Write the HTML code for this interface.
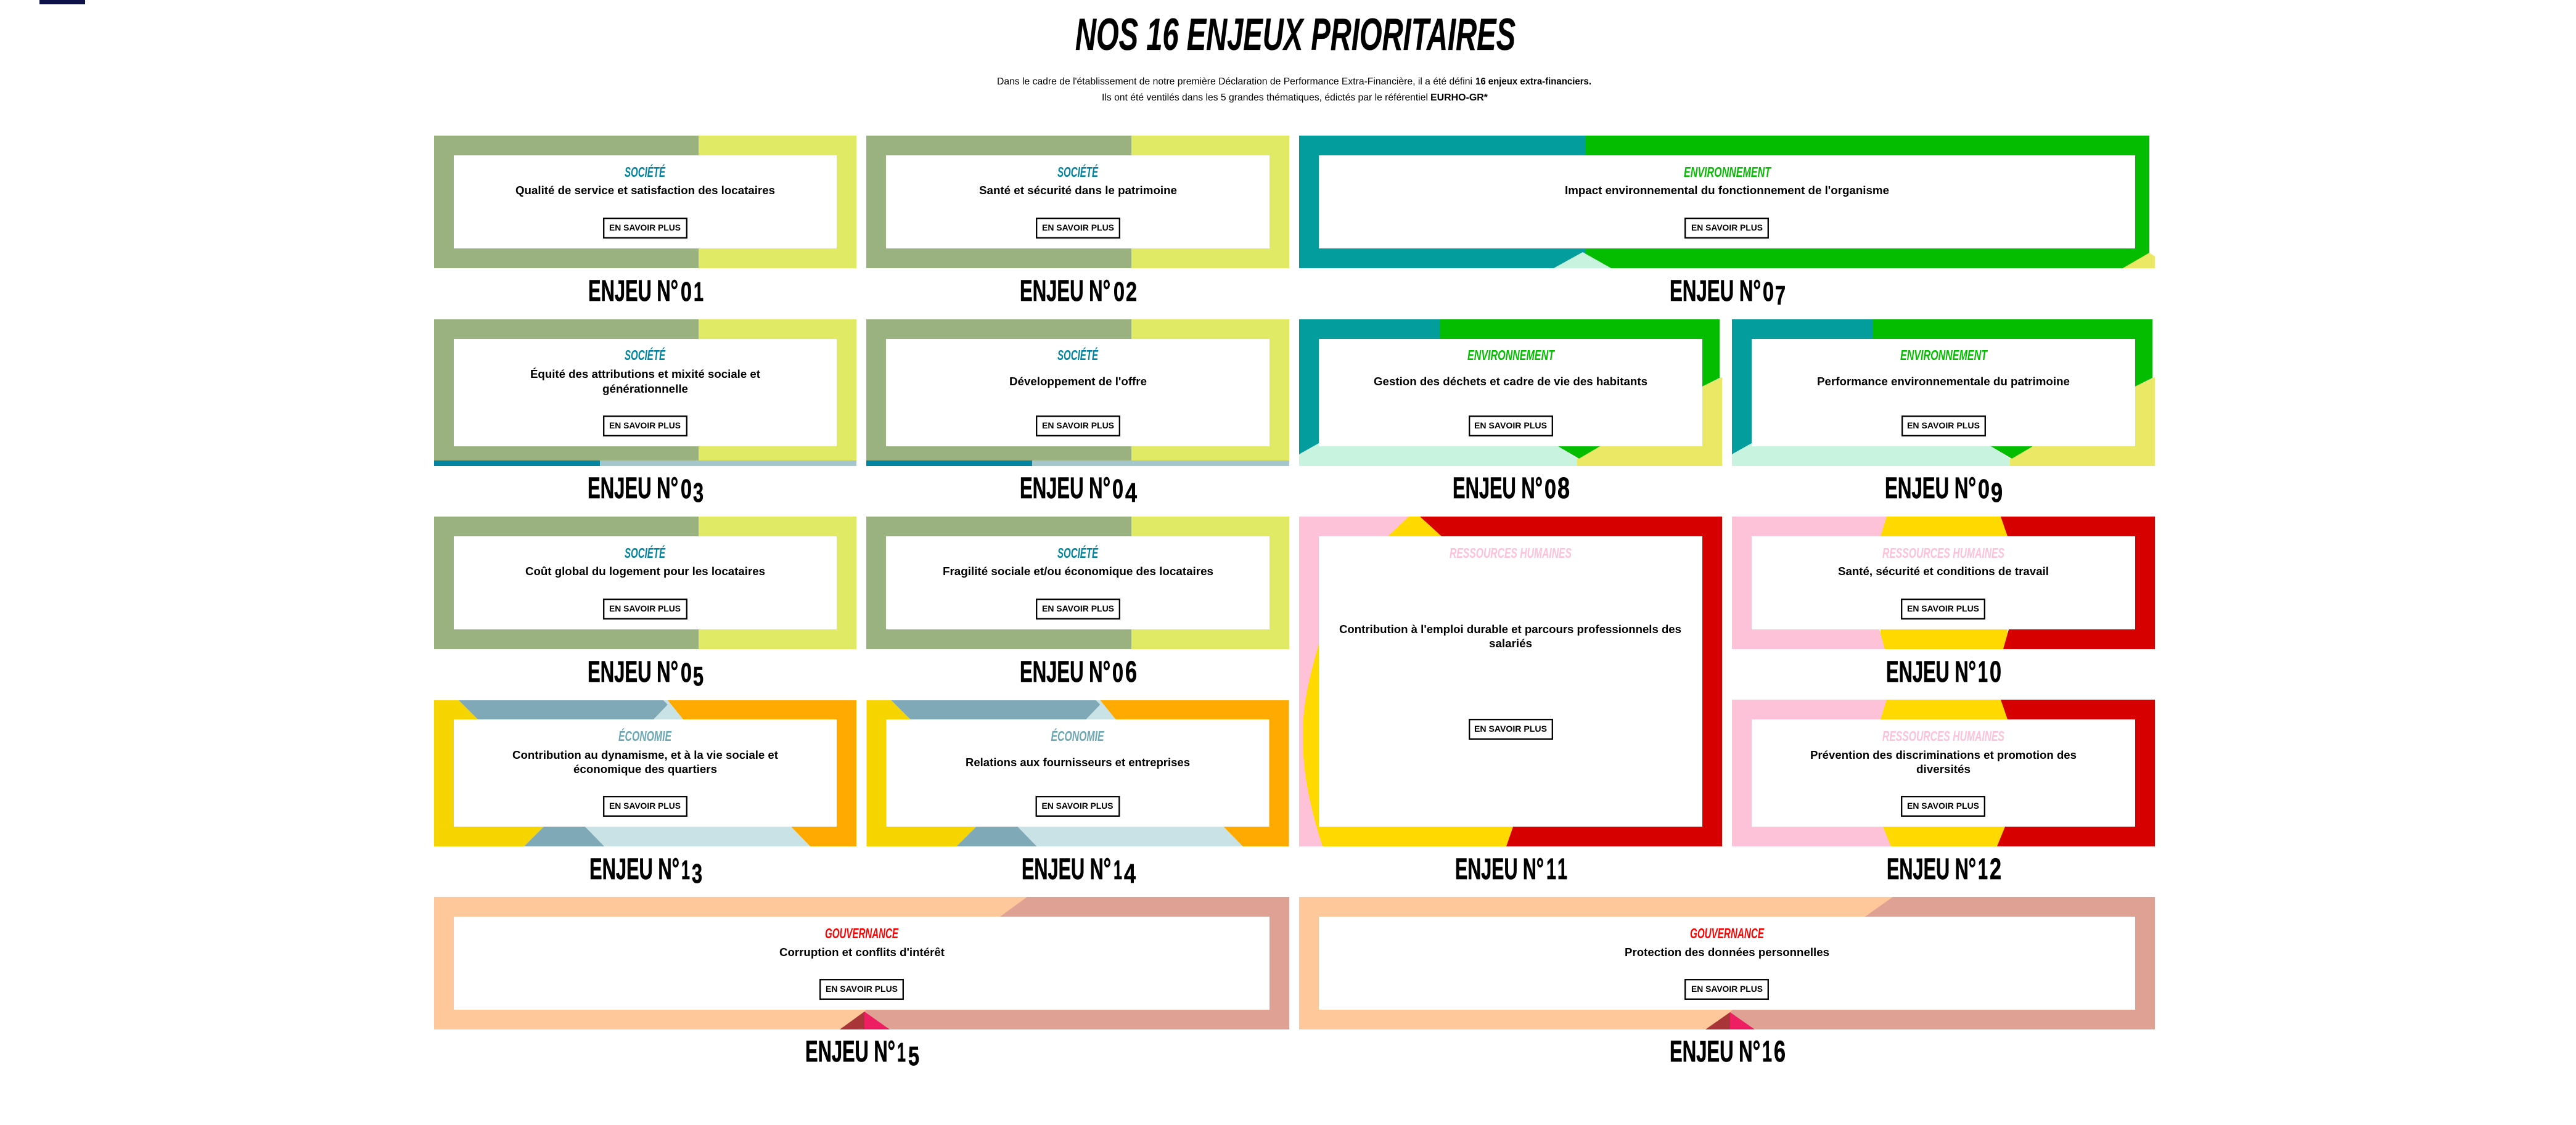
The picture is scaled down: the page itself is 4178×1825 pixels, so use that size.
<!DOCTYPE html>
<html lang="fr"><head><meta charset="utf-8"><title>Nos 16 enjeux prioritaires</title>
<style>
html,body{margin:0;padding:0;background:#fff}
svg{display:block}
text{font-family:"Liberation Sans",sans-serif}
.h{font-weight:700;font-style:italic;font-size:73px;stroke:#000;stroke-width:.3}
.s{font-size:16px}.sb{font-size:16px;font-weight:700}
.l{font-weight:700;font-style:italic;font-size:23px}
.t{font-weight:700;font-size:18px}
.b{font-weight:700;font-size:14px}
.e{font-weight:700;font-size:48px;stroke:#000;stroke-width:.7}
.d{font-weight:700;font-size:44px;stroke:#000;stroke-width:.7}
.D{font-weight:700;font-size:48px;stroke:#000;stroke-width:.7}
.btn{fill:#fff;stroke:#000;stroke-width:2.3}
.soc{fill:#00849f}.env{fill:#04bd00}.rh{fill:#fdc1d8}.eco{fill:#6ba7b5}.gov{fill:#f00}
</style></head><body>
<svg xmlns="http://www.w3.org/2000/svg" width="4178" height="1825" viewBox="0 0 4178 1825">
<rect width="4178" height="1825" fill="#fff"/>
<rect x="64" y="0" width="74" height="7" fill="#0e1147"/>
<text class="h" x="1744" y="81" textLength="714" lengthAdjust="spacingAndGlyphs">NOS 16 ENJEUX PRIORITAIRES</text>
<text class="s" x="1617" y="137" textLength="771" lengthAdjust="spacingAndGlyphs">Dans le cadre de l'établissement de notre première Déclaration de Performance Extra-Financière, il a été défini</text>
<text class="sb" x="2393" y="137" textLength="188" lengthAdjust="spacingAndGlyphs">16 enjeux extra-financiers.</text>
<text class="s" x="1787" y="163" textLength="529" lengthAdjust="spacingAndGlyphs">Ils ont été ventilés dans les 5 grandes thématiques, édictés par le référentiel</text>
<text class="sb" x="2320" y="163" textLength="93" lengthAdjust="spacingAndGlyphs">EURHO-GR*</text>

<!-- 01 -->
<rect x="704" y="220" width="429" height="215" fill="#99b280"/><rect x="1133" y="220" width="256" height="215" fill="#e1ea65"/>
<rect x="736" y="252" width="621" height="151" fill="#fff"/>
<text class="l soc" x="1013" y="287" textLength="66" lengthAdjust="spacingAndGlyphs">SOCIÉTÉ</text>
<text class="t" x="836" y="315" textLength="421" lengthAdjust="spacingAndGlyphs">Qualité de service et satisfaction des locataires</text>
<rect class="btn" x="979.2" y="354.2" width="134.6" height="31.6"/>
<text class="b" x="988" y="374" textLength="116" lengthAdjust="spacingAndGlyphs">EN SAVOIR PLUS</text>
<text class="e" x="954" y="488" textLength="146" lengthAdjust="spacingAndGlyphs">ENJEU N°</text>
<text class="d" x="1104" y="488" textLength="18" lengthAdjust="spacingAndGlyphs">0</text><text class="d" x="1125" y="488" textLength="16" lengthAdjust="spacingAndGlyphs">1</text>

<!-- 02 -->
<rect x="1405" y="220" width="430" height="215" fill="#99b280"/><rect x="1835" y="220" width="256" height="215" fill="#e1ea65"/>
<rect x="1437" y="252" width="622" height="151" fill="#fff"/>
<text class="l soc" x="1715" y="287" textLength="66" lengthAdjust="spacingAndGlyphs">SOCIÉTÉ</text>
<text class="t" x="1588" y="315" textLength="321" lengthAdjust="spacingAndGlyphs">Santé et sécurité dans le patrimoine</text>
<rect class="btn" x="1681.2" y="354.2" width="134.6" height="31.6"/>
<text class="b" x="1690" y="374" textLength="117" lengthAdjust="spacingAndGlyphs">EN SAVOIR PLUS</text>
<text class="e" x="1654" y="488" textLength="147" lengthAdjust="spacingAndGlyphs">ENJEU N°</text>
<text class="d" x="1806" y="488" textLength="18" lengthAdjust="spacingAndGlyphs">0</text><text class="d" x="1826" y="488" textLength="18" lengthAdjust="spacingAndGlyphs">2</text>

<!-- 07 -->
<rect x="2107" y="220" width="464" height="215" fill="#029d9c"/><rect x="2571" y="220" width="915" height="215" fill="#04bd00"/>
<polygon points="2567,409 2520,435 2613,435" fill="#c8f3de"/>
<polygon points="3486,410 3495,416 3495,435 3443,435" fill="#ebe866"/>
<rect x="2139" y="252" width="1324" height="151" fill="#fff"/>
<text class="l env" x="2731" y="287" textLength="141" lengthAdjust="spacingAndGlyphs">ENVIRONNEMENT</text>
<text class="t" x="2538" y="315" textLength="526" lengthAdjust="spacingAndGlyphs">Impact environnemental du fonctionnement de l'organisme</text>
<rect class="btn" x="2733.2" y="354.2" width="134.6" height="31.6"/>
<text class="b" x="2743" y="374" textLength="116" lengthAdjust="spacingAndGlyphs">EN SAVOIR PLUS</text>
<text class="e" x="2708" y="488" textLength="148" lengthAdjust="spacingAndGlyphs">ENJEU N°</text>
<text class="d" x="2859" y="488" textLength="18" lengthAdjust="spacingAndGlyphs">0</text><text class="d" x="2879" y="494" textLength="17" lengthAdjust="spacingAndGlyphs">7</text>

<!-- 03 -->
<rect x="704" y="518" width="429" height="229" fill="#99b280"/><rect x="1133" y="518" width="256" height="229" fill="#e1ea65"/>
<rect x="704" y="747" width="269" height="9" fill="#00849f"/><rect x="973" y="747" width="416" height="9" fill="#a5c7cb"/>
<rect x="736" y="550" width="621" height="174" fill="#fff"/>
<text class="l soc" x="1013" y="584" textLength="66" lengthAdjust="spacingAndGlyphs">SOCIÉTÉ</text>
<text class="t" x="860" y="613" textLength="373" lengthAdjust="spacingAndGlyphs">Équité des attributions et mixité sociale et</text>
<text class="t" x="977" y="637" textLength="139" lengthAdjust="spacingAndGlyphs">générationnelle</text>
<rect class="btn" x="979.2" y="675.2" width="134.6" height="31.6"/>
<text class="b" x="988" y="695" textLength="116" lengthAdjust="spacingAndGlyphs">EN SAVOIR PLUS</text>
<text class="e" x="953" y="808" textLength="147" lengthAdjust="spacingAndGlyphs">ENJEU N°</text>
<text class="d" x="1104" y="808" textLength="18" lengthAdjust="spacingAndGlyphs">0</text><text class="d" x="1124" y="814" textLength="17" lengthAdjust="spacingAndGlyphs">3</text>

<!-- 04 -->
<rect x="1405" y="518" width="430" height="229" fill="#99b280"/><rect x="1835" y="518" width="256" height="229" fill="#e1ea65"/>
<rect x="1405" y="747" width="269" height="9" fill="#00849f"/><rect x="1674" y="747" width="417" height="9" fill="#a5c7cb"/>
<rect x="1437" y="550" width="622" height="174" fill="#fff"/>
<text class="l soc" x="1715" y="584" textLength="66" lengthAdjust="spacingAndGlyphs">SOCIÉTÉ</text>
<text class="t" x="1637" y="625" textLength="223" lengthAdjust="spacingAndGlyphs">Développement de l'offre</text>
<rect class="btn" x="1681.2" y="675.2" width="134.6" height="31.6"/>
<text class="b" x="1690" y="695" textLength="117" lengthAdjust="spacingAndGlyphs">EN SAVOIR PLUS</text>
<text class="e" x="1654" y="808" textLength="147" lengthAdjust="spacingAndGlyphs">ENJEU N°</text>
<text class="d" x="1804" y="808" textLength="18" lengthAdjust="spacingAndGlyphs">0</text><text class="d" x="1825" y="814" textLength="19" lengthAdjust="spacingAndGlyphs">4</text>

<!-- 08 -->
<g id="env8">
<polygon points="2107,518 2336,518 2336,550 2139,550 2139,719 2107,737" fill="#029d9c"/>
<polygon points="2336,518 2789,518 2789,613 2761,627 2761,550 2336,550" fill="#04bd00"/>
<polygon points="2761,627 2793,612 2793,756 2558,756 2558,744 2561,744 2595,724 2761,724" fill="#ebe866"/>
<polygon points="2139,719 2107,737 2107,756 2558,756 2558,744 2527,724 2139,724" fill="#c8f3de"/>
<polygon points="2527,724 2595,724 2561,744" fill="#04bd00"/>
<rect x="2139" y="550" width="622" height="174" fill="#fff"/>
<text class="l env" x="2380" y="584" textLength="141" lengthAdjust="spacingAndGlyphs">ENVIRONNEMENT</text>
<rect class="btn" x="2383.2" y="675.2" width="134.6" height="31.6"/>
<text class="b" x="2391" y="695" textLength="118" lengthAdjust="spacingAndGlyphs">EN SAVOIR PLUS</text>
</g>
<text class="t" x="2228" y="625" textLength="444" lengthAdjust="spacingAndGlyphs">Gestion des déchets et cadre de vie des habitants</text>
<text class="e" x="2356" y="808" textLength="146" lengthAdjust="spacingAndGlyphs">ENJEU N°</text>
<text class="d" x="2505" y="808" textLength="19" lengthAdjust="spacingAndGlyphs">0</text><text class="D" x="2526" y="808" textLength="20" lengthAdjust="spacingAndGlyphs">8</text>

<!-- 09 -->
<use href="#env8" x="702"/>
<text class="t" x="2947" y="625" textLength="410" lengthAdjust="spacingAndGlyphs">Performance environnementale du patrimoine</text>
<text class="e" x="3057" y="808" textLength="148" lengthAdjust="spacingAndGlyphs">ENJEU N°</text>
<text class="d" x="3208" y="808" textLength="19" lengthAdjust="spacingAndGlyphs">0</text><text class="d" x="3229" y="814" textLength="19" lengthAdjust="spacingAndGlyphs">9</text>

<!-- 05 -->
<rect x="704" y="838" width="429" height="215" fill="#99b280"/><rect x="1133" y="838" width="256" height="215" fill="#e1ea65"/>
<rect x="736" y="870" width="621" height="151" fill="#fff"/>
<text class="l soc" x="1013" y="905" textLength="66" lengthAdjust="spacingAndGlyphs">SOCIÉTÉ</text>
<text class="t" x="852" y="933" textLength="389" lengthAdjust="spacingAndGlyphs">Coût global du logement pour les locataires</text>
<rect class="btn" x="979.2" y="972.2" width="134.6" height="31.6"/>
<text class="b" x="988" y="992" textLength="116" lengthAdjust="spacingAndGlyphs">EN SAVOIR PLUS</text>
<text class="e" x="953" y="1106" textLength="147" lengthAdjust="spacingAndGlyphs">ENJEU N°</text>
<text class="d" x="1104" y="1106" textLength="18" lengthAdjust="spacingAndGlyphs">0</text><text class="d" x="1124" y="1112" textLength="17" lengthAdjust="spacingAndGlyphs">5</text>

<!-- 06 -->
<rect x="1405" y="838" width="430" height="215" fill="#99b280"/><rect x="1835" y="838" width="256" height="215" fill="#e1ea65"/>
<rect x="1437" y="870" width="622" height="151" fill="#fff"/>
<text class="l soc" x="1715" y="905" textLength="66" lengthAdjust="spacingAndGlyphs">SOCIÉTÉ</text>
<text class="t" x="1529" y="933" textLength="439" lengthAdjust="spacingAndGlyphs">Fragilité sociale et/ou économique des locataires</text>
<rect class="btn" x="1681.2" y="972.2" width="134.6" height="31.6"/>
<text class="b" x="1690" y="992" textLength="117" lengthAdjust="spacingAndGlyphs">EN SAVOIR PLUS</text>
<text class="e" x="1654" y="1106" textLength="147" lengthAdjust="spacingAndGlyphs">ENJEU N°</text>
<text class="d" x="1804" y="1106" textLength="18" lengthAdjust="spacingAndGlyphs">0</text><text class="D" x="1825" y="1106" textLength="19" lengthAdjust="spacingAndGlyphs">6</text>

<!-- 10 -->
<rect x="3050" y="838" width="206" height="215" fill="#ffd900"/>
<polygon points="2809,838 3060,838 3050,870 3048,1021 3057,1053 2809,1053" fill="#fdc1d8"/>
<polygon points="3245,838 3495,838 3495,1053 3249,1053 3258,1021 3256,870" fill="#d60000"/>
<rect x="2841" y="870" width="622" height="151" fill="#fff"/>
<text class="l rh" x="3053" y="905" textLength="198" lengthAdjust="spacingAndGlyphs">RESSOURCES HUMAINES</text>
<text class="t" x="2981" y="933" textLength="342" lengthAdjust="spacingAndGlyphs">Santé, sécurité et conditions de travail</text>
<rect class="btn" x="3084.2" y="972.2" width="134.6" height="31.6"/>
<text class="b" x="3093" y="992" textLength="117" lengthAdjust="spacingAndGlyphs">EN SAVOIR PLUS</text>
<text class="e" x="3059" y="1106" textLength="146" lengthAdjust="spacingAndGlyphs">ENJEU N°</text>
<text class="D" x="3208" y="1106" textLength="16" lengthAdjust="spacingAndGlyphs">1</text><text class="D" x="3227" y="1106" textLength="19" lengthAdjust="spacingAndGlyphs">0</text>

<!-- 11 -->
<rect x="2107" y="838" width="686" height="535" fill="#fdc1d8"/>
<polygon points="2303,838 2793,838 2793,1373 2443,1373 2454,1341 2761,1341 2761,870 2338,870" fill="#d60000"/>
<polygon points="2285,838 2303,838 2338,870 2251,870" fill="#ffd900"/>
<path d="M2139,1045 C2120,1110 2113,1150 2113,1192 C2113,1250 2122,1300 2145,1373 L2443,1373 L2454,1341 L2139,1341 Z" fill="#ffd900"/>
<rect x="2139" y="870" width="622" height="471" fill="#fff"/>
<text class="l rh" x="2351" y="905" textLength="198" lengthAdjust="spacingAndGlyphs">RESSOURCES HUMAINES</text>
<text class="t" x="2172" y="1027" textLength="555" lengthAdjust="spacingAndGlyphs">Contribution à l'emploi durable et parcours professionnels des</text>
<text class="t" x="2415" y="1050" textLength="70" lengthAdjust="spacingAndGlyphs">salariés</text>
<rect class="btn" x="2383.2" y="1167.2" width="134.6" height="31.6"/>
<text class="b" x="2391" y="1187" textLength="118" lengthAdjust="spacingAndGlyphs">EN SAVOIR PLUS</text>
<text class="e" x="2360" y="1426" textLength="144" lengthAdjust="spacingAndGlyphs">ENJEU N°</text>
<text class="D" x="2508" y="1426" textLength="16" lengthAdjust="spacingAndGlyphs">1</text><text class="D" x="2526" y="1426" textLength="16" lengthAdjust="spacingAndGlyphs">1</text>

<!-- 12 -->
<rect x="3050" y="1135" width="206" height="238" fill="#ffd900"/>
<polygon points="2809,1135 3060,1135 3050,1167 3054,1341 3067,1373 2809,1373" fill="#fdc1d8"/>
<polygon points="3245,1135 3495,1135 3495,1373 3239,1373 3252,1341 3256,1167" fill="#d60000"/>
<rect x="2841" y="1167" width="622" height="174" fill="#fff"/>
<text class="l rh" x="3053" y="1202" textLength="198" lengthAdjust="spacingAndGlyphs">RESSOURCES HUMAINES</text>
<text class="t" x="2936" y="1231" textLength="432" lengthAdjust="spacingAndGlyphs">Prévention des discriminations et promotion des</text>
<text class="t" x="3108" y="1254" textLength="88" lengthAdjust="spacingAndGlyphs">diversités</text>
<rect class="btn" x="3084.2" y="1292.2" width="134.6" height="31.6"/>
<text class="b" x="3093" y="1312" textLength="117" lengthAdjust="spacingAndGlyphs">EN SAVOIR PLUS</text>
<text class="e" x="3060" y="1426" textLength="145" lengthAdjust="spacingAndGlyphs">ENJEU N°</text>
<text class="D" x="3208" y="1426" textLength="16" lengthAdjust="spacingAndGlyphs">1</text><text class="D" x="3227" y="1426" textLength="19" lengthAdjust="spacingAndGlyphs">2</text>

<!-- 13 -->
<g id="eco13">
<polygon points="704,1136 744,1136 775,1167 736,1167 736,1341 882,1341 850,1373 704,1373" fill="#f5d400"/>
<polygon points="744,1136 1076,1136 1083,1143 1060,1167 775,1167" fill="#7fa9b6"/>
<polygon points="1076,1136 1083,1136 1108,1167 1060,1167 1083,1143" fill="#c9e2e5"/>
<polygon points="1083,1136 1389,1136 1389,1373 1314,1373 1283,1341 1357,1341 1357,1167 1108,1167" fill="#ffaa00"/>
<polygon points="882,1341 949,1341 980,1373 850,1373" fill="#7fa9b6"/>
<polygon points="949,1341 1283,1341 1314,1373 980,1373" fill="#c9e2e5"/>
<rect x="736" y="1167" width="621" height="174" fill="#fff"/>
<text class="l eco" x="1003" y="1202" textLength="86" lengthAdjust="spacingAndGlyphs">ÉCONOMIE</text>
<rect class="btn" x="979.2" y="1292.2" width="134.6" height="31.6"/>
<text class="b" x="988" y="1312" textLength="116" lengthAdjust="spacingAndGlyphs">EN SAVOIR PLUS</text>
</g>
<text class="t" x="831" y="1231" textLength="431" lengthAdjust="spacingAndGlyphs">Contribution au dynamisme, et à la vie sociale et</text>
<text class="t" x="930" y="1254" textLength="233" lengthAdjust="spacingAndGlyphs">économique des quartiers</text>
<text class="e" x="956" y="1426" textLength="146" lengthAdjust="spacingAndGlyphs">ENJEU N°</text>
<text class="d" x="1105" y="1426" textLength="14" lengthAdjust="spacingAndGlyphs">1</text><text class="d" x="1122" y="1432" textLength="17" lengthAdjust="spacingAndGlyphs">3</text>

<!-- 14 -->
<use href="#eco13" x="701.5"/>
<text class="t" x="1566" y="1243" textLength="364" lengthAdjust="spacingAndGlyphs">Relations aux fournisseurs et entreprises</text>
<text class="e" x="1657" y="1426" textLength="145" lengthAdjust="spacingAndGlyphs">ENJEU N°</text>
<text class="d" x="1806" y="1426" textLength="14" lengthAdjust="spacingAndGlyphs">1</text><text class="d" x="1823" y="1432" textLength="19" lengthAdjust="spacingAndGlyphs">4</text>

<!-- 15 -->
<rect x="704" y="1455" width="1387" height="215" fill="#fec89a"/>
<polygon points="1666,1455 2091,1455 2091,1670 1443,1670 1402,1641 1405,1638 2059,1638 2059,1487 1622,1487" fill="#dea193"/>
<polygon points="1402,1641 1402,1670 1362,1670" fill="#a83538"/>
<polygon points="1402,1641 1443,1670 1402,1670" fill="#ee1e62"/>
<rect x="736" y="1487" width="1323" height="151" fill="#fff"/>
<text class="l gov" x="1338" y="1522" textLength="119" lengthAdjust="spacingAndGlyphs">GOUVERNANCE</text>
<text class="t" x="1264" y="1551" textLength="268" lengthAdjust="spacingAndGlyphs">Corruption et conflits d'intérêt</text>
<rect class="btn" x="1330.2" y="1589.2" width="134.6" height="31.6"/>
<text class="b" x="1339" y="1609" textLength="117" lengthAdjust="spacingAndGlyphs">EN SAVOIR PLUS</text>
<text class="e" x="1306" y="1722" textLength="146" lengthAdjust="spacingAndGlyphs">ENJEU N°</text>
<text class="d" x="1455" y="1722" textLength="14" lengthAdjust="spacingAndGlyphs">1</text><text class="d" x="1473" y="1728" textLength="18" lengthAdjust="spacingAndGlyphs">5</text>

<!-- 16 -->
<rect x="2107" y="1455" width="1388" height="215" fill="#fec89a"/>
<polygon points="3070,1455 3495,1455 3495,1670 2846,1670 2806,1642 2810,1638 3463,1638 3463,1487 3025,1487" fill="#dea193"/>
<polygon points="2806,1642 2806,1670 2766,1670" fill="#a83538"/>
<polygon points="2806,1642 2846,1670 2806,1670" fill="#ee1e62"/>
<rect x="2139" y="1487" width="1324" height="151" fill="#fff"/>
<text class="l gov" x="2741" y="1522" textLength="120" lengthAdjust="spacingAndGlyphs">GOUVERNANCE</text>
<text class="t" x="2635" y="1551" textLength="332" lengthAdjust="spacingAndGlyphs">Protection des données personnelles</text>
<rect class="btn" x="2733.2" y="1589.2" width="134.6" height="31.6"/>
<text class="b" x="2743" y="1609" textLength="116" lengthAdjust="spacingAndGlyphs">EN SAVOIR PLUS</text>
<text class="e" x="2708" y="1722" textLength="147" lengthAdjust="spacingAndGlyphs">ENJEU N°</text>
<text class="D" x="2858" y="1722" textLength="16" lengthAdjust="spacingAndGlyphs">1</text><text class="D" x="2877" y="1722" textLength="19" lengthAdjust="spacingAndGlyphs">6</text>
</svg>
</body></html>
